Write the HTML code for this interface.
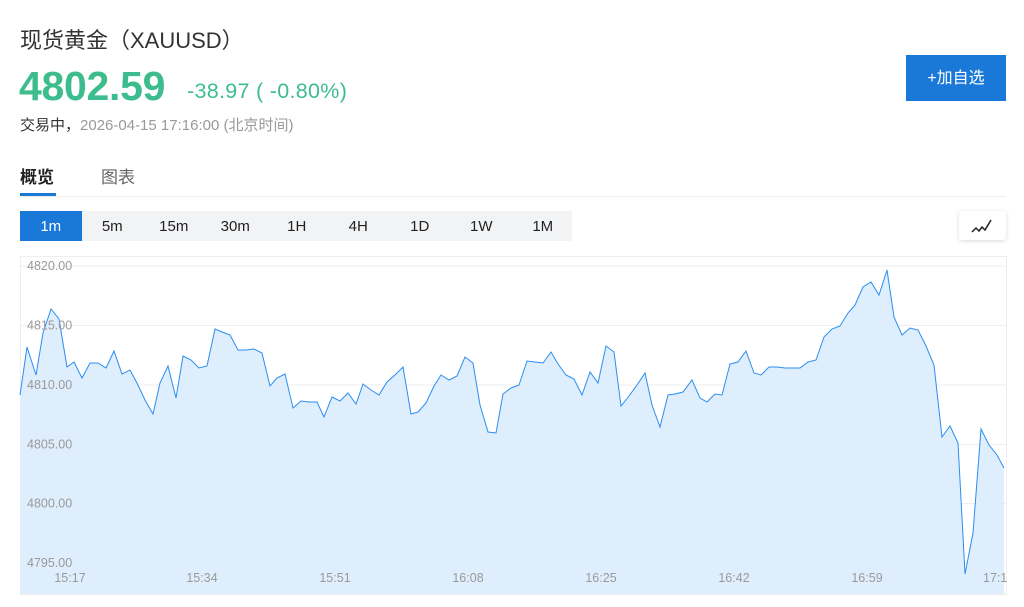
<!DOCTYPE html>
<html><head><meta charset="utf-8"><style>
*{margin:0;padding:0;box-sizing:border-box}
body{width:1024px;height:607px;background:#fff;font-family:"Liberation Sans","Noto Sans CJK SC",sans-serif;position:relative;overflow:hidden;color:#333}
.a{position:absolute;white-space:nowrap}
.per{position:absolute;top:211px;height:30px;width:61.5px;text-align:center;line-height:32px;font-size:15px;color:#222}
</style></head><body>
<div class="a" style="left:20px;top:23px;font-size:22px;color:#333">现货黄金（XAUUSD）</div>
<div class="a" style="left:19px;top:63px;font-size:41px;font-weight:bold;color:#3dbd8e;letter-spacing:-0.3px">4802.59</div>
<div class="a" style="left:187px;top:79px;font-size:21.5px;color:#3dbd8e;letter-spacing:0.3px">-38.97 ( -0.80%)</div>
<div class="a" style="left:20px;top:114px;font-size:15px;color:#333">交易中，<span style="color:#999">2026-04-15 17:16:00 (北京时间)</span></div>
<div class="a" style="left:906px;top:55px;width:100px;height:46px;background:#1a78d8;color:#fff;font-size:16px;line-height:47px;text-align:center">+加自选</div>
<div class="a" style="left:20px;top:163px;font-size:17px;font-weight:bold;color:#222">概览</div>
<div class="a" style="left:101px;top:163px;font-size:17px;color:#666">图表</div>
<div class="a" style="left:20px;top:193px;width:36px;height:3px;background:#1a78d8"></div>
<div class="a" style="left:20px;top:196px;width:986px;height:1px;background:#eee"></div>
<div class="a" style="left:20px;top:211px;width:552px;height:30px;background:#f2f3f5"></div>
<div class="per" style="left:20px;background:#1a78d8;color:#fff">1m</div>
<div class="per" style="left:81.5px">5m</div>
<div class="per" style="left:143px">15m</div>
<div class="per" style="left:204.5px">30m</div>
<div class="per" style="left:266px">1H</div>
<div class="per" style="left:327.5px">4H</div>
<div class="per" style="left:389px">1D</div>
<div class="per" style="left:450.5px">1W</div>
<div class="per" style="left:512px">1M</div>
<div class="a" style="left:959px;top:211px;width:47px;height:29px;background:#fff;border-radius:3px;box-shadow:0 1px 4px rgba(0,0,0,.15)">
<svg width="47" height="29"><polyline points="13,21 17,17 20,20 23,16 26,19 32,9" fill="none" stroke="#222" stroke-width="1.5"/></svg></div>
<svg class="a" style="left:0;top:0" width="1024" height="607">
<rect x="20.5" y="256.5" width="986" height="338" fill="none" stroke="#eee"/>
<g stroke="#eee" stroke-width="1">
<line x1="21" x2="1006" y1="266" y2="266"/><line x1="21" x2="1006" y1="325.5" y2="325.5"/>
<line x1="21" x2="1006" y1="385" y2="385"/><line x1="21" x2="1006" y1="444.5" y2="444.5"/>
<line x1="21" x2="1006" y1="503.5" y2="503.5"/><line x1="21" x2="1006" y1="563" y2="563"/></g>
<polygon fill="#dfeefd" points="20,395 27,347 36,375 43,333 51,309 59,319 67,367 74,362 82,378 90,363 98,363 106,368 114,351 122,374 130,370 137,383 145,400 153,414 160,383 168,366 176,398 183,356 191,360 199,368 207,366 215,329 222,332 230,335 238,350 246,350 254,349 262,353 270,386 277,378 285,374 293,408 301,401 309,402 317,402 324,417 332,397 340,401 348,393 356,404 363,384 371,390 379,395 387,382 395,375 403,367 411,414 418,412 426,403 434,386 441,375 449,380 457,376 465,357 473,363 480,405 488,432 496,433 503,394 511,388 519,385 527,361 535,362 543,363 551,352 558,364 566,375 574,379 582,395 590,372 598,383 606,346 614,352 621,406 629,396 637,385 645,373 652,405 660,427 668,395 675,394 683,392 692,380 700,398 707,402 715,394 722,395 730,364 738,362 746,351 754,373 761,375 769,367 777,367 785,368 800,368 808,362 816,360 824,337 832,329 840,326 848,313 855,305 863,287 871,282 879,295 887,270 894,317 902,335 910,328 918,330 926,346 934,365 942,437 950,426 958,443 965,574 973,533 981,429 989,445 997,455 1004,468 1004,594 20,594"/>
<polyline fill="none" stroke="#2b8ef0" stroke-width="1" points="20,395 27,347 36,375 43,333 51,309 59,319 67,367 74,362 82,378 90,363 98,363 106,368 114,351 122,374 130,370 137,383 145,400 153,414 160,383 168,366 176,398 183,356 191,360 199,368 207,366 215,329 222,332 230,335 238,350 246,350 254,349 262,353 270,386 277,378 285,374 293,408 301,401 309,402 317,402 324,417 332,397 340,401 348,393 356,404 363,384 371,390 379,395 387,382 395,375 403,367 411,414 418,412 426,403 434,386 441,375 449,380 457,376 465,357 473,363 480,405 488,432 496,433 503,394 511,388 519,385 527,361 535,362 543,363 551,352 558,364 566,375 574,379 582,395 590,372 598,383 606,346 614,352 621,406 629,396 637,385 645,373 652,405 660,427 668,395 675,394 683,392 692,380 700,398 707,402 715,394 722,395 730,364 738,362 746,351 754,373 761,375 769,367 777,367 785,368 800,368 808,362 816,360 824,337 832,329 840,326 848,313 855,305 863,287 871,282 879,295 887,270 894,317 902,335 910,328 918,330 926,346 934,365 942,437 950,426 958,443 965,574 973,533 981,429 989,445 997,455 1004,468"/>
<g font-family="Liberation Sans, sans-serif" font-size="12.5" fill="#999">
<text x="27" y="270">4820.00</text><text x="27" y="329.5">4815.00</text><text x="27" y="389">4810.00</text>
<text x="27" y="448.5">4805.00</text><text x="27" y="507.5">4800.00</text><text x="27" y="567">4795.00</text>
<g text-anchor="middle"><text x="70" y="582">15:17</text><text x="202" y="582">15:34</text><text x="335" y="582">15:51</text><text x="468" y="582">16:08</text><text x="601" y="582">16:25</text><text x="734" y="582">16:42</text><text x="867" y="582">16:59</text></g>
<text x="983" y="582">17:1</text></g>
</svg>
</body></html>
